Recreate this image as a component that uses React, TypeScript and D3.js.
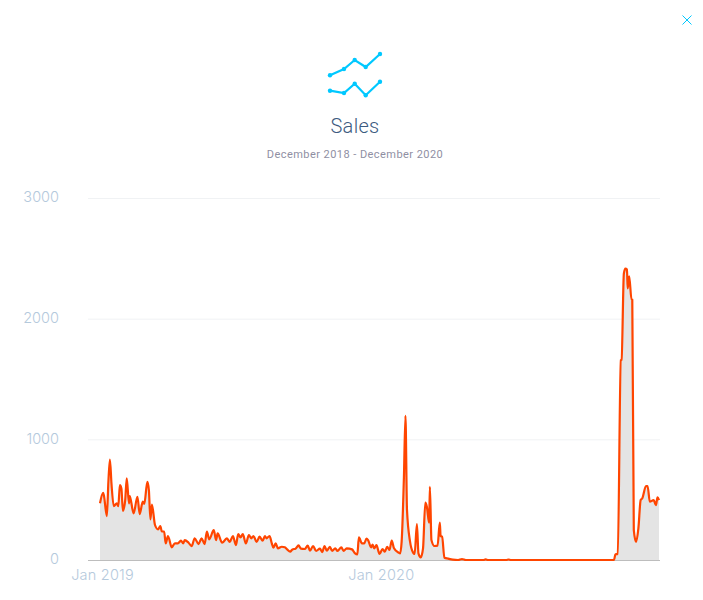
import React, { useEffect, useRef } from 'react';
import * as d3 from 'd3';

const chartTitle = 'Sales';
const chartSubtitle = 'December 2018 - December 2020';
const startDate = new Date(2018, 11, 30);
const endDate = new Date(2020, 11, 31);

const yTicks = [0, 1000, 2000, 3000];
const xTicks = [new Date(2019, 0, 1), new Date(2020, 0, 1)];

// days since startDate, the samples are not evenly spaced so the peaks stay sharp
const saleDays = [
    0, 4, 5, 9, 11, 13, 15, 18, 22, 24, 26, 28, 30, 33, 35, 38, 39, 44, 49, 52, 56, 58, 62, 64, 66, 68,
    72, 76, 79, 81, 84, 86, 89, 94, 98, 102, 106, 109, 111, 116, 120, 124, 129, 133, 137, 140, 143, 149,
    152, 154, 160, 166, 170, 174, 178, 181, 184, 187, 191, 195, 198, 201, 205, 209, 213, 216, 218, 222,
    225, 227, 230, 233, 238, 242, 245, 249, 252, 256, 260, 263, 268, 272, 275, 279, 283, 288, 291, 294,
    297, 301, 304, 308, 311, 316, 319, 323, 330, 334, 337, 339, 343, 346, 349, 351, 355, 357, 359, 362,
    366, 370, 373, 376, 379, 382, 385, 391, 393, 395, 398, 400, 402, 406, 410, 412, 415, 417, 420, 423,
    426, 428, 431, 432, 434, 438, 442, 445, 446, 448, 451, 456, 462, 469, 474, 479, 502, 505, 508, 532,
    535, 538, 673, 675, 678, 682, 683, 686, 688, 690, 691, 693, 696, 697, 699, 702, 705, 708, 710, 715,
    717, 720, 725, 728, 730, 732,
];

const saleValues = [
    470, 557, 538, 364, 650, 833, 635, 447, 469, 447, 620, 593, 408, 497, 676, 469, 530, 386, 524, 380, 483, 465, 648, 580, 337, 460,
    290, 254, 280, 236, 236, 138, 199, 105, 138, 138, 160, 138, 165, 143, 115, 180, 132, 180, 132, 235, 170, 248,
    165, 220, 143, 180, 150, 199, 124, 215, 188, 215, 138, 207, 180, 199, 150, 193, 160, 199, 180, 199,
    138, 102, 138, 97, 110, 105, 88, 69, 88, 94, 121, 94, 91, 119, 77, 116, 75, 94, 66, 116,
    77, 110, 75, 97, 75, 105, 75, 97, 88, 55, 47, 188, 138, 138, 177, 165, 105, 127, 97, 124,
    50, 91, 69, 110, 83, 160, 97, 61, 55, 152, 690, 1195, 414, 152, 61, 50, 298, 55, 22, 97,
    475, 442, 309, 607, 166, 116, 119, 309, 199, 193, 19, 11, 3, 0, 8, 0, 0, 6, 0, 0,
    4, 0, 0, 47, 50, 1656, 1660, 2374, 2415, 2407, 2250, 2350, 2158, 2158, 248, 150, 262, 497, 510, 613,
    613, 483, 497, 455, 519, 497,
];

const iconTop: [number, number][] = [[330, 75.3], [344, 69], [354.7, 60], [365.7, 67], [380, 54]];
const iconBottom: [number, number][] = [[330, 90.7], [344, 93], [354.7, 83.7], [365.7, 95.3], [380, 81.7]];

const sales = saleDays.map((day, i) => ({ date: d3.timeDay.offset(startDate, day), value: saleValues[i] }));

const App = () => {
    const ref = useRef<SVGSVGElement>(null);

    useEffect(() => {
        const svg = d3.select(ref.current);
        svg.selectAll('*').remove();

        const x = d3.scaleTime().domain([startDate, endDate]).range([100, 659]);
        const y = d3.scaleLinear().domain([0, 3000]).range([560, 198]);

        // grid and y labels
        const yAxis = svg.append('g')
            .attr('transform', 'translate(88,0)')
            .call(d3.axisLeft(y).tickValues(yTicks).tickSize(-572).tickPadding(29).tickFormat(d3.format('d')));
        yAxis.select('.domain').remove();
        yAxis.selectAll('line').attr('stroke', '#f0f2f4').attr('stroke-width', 1);
        yAxis.selectAll('text')
            .attr('fill', '#b4c9dc')
            .attr('font-family', 'Inter, sans-serif')
            .attr('font-weight', 300)
            .attr('font-size', 14.5)
            .attr('dy', '0.27em');

        const area = d3.area<{ date: Date; value: number }>()
            .x(d => x(d.date))
            .y0(y(0))
            .y1(d => y(d.value))
            .curve(d3.curveMonotoneX);

        const line = d3.line<{ date: Date; value: number }>()
            .x(d => x(d.date))
            .y(d => y(d.value))
            .curve(d3.curveMonotoneX);

        svg.append('path').datum(sales).attr('d', area).attr('fill', '#e4e4e4');

        // baseline
        svg.append('line')
            .attr('x1', 88).attr('x2', 660)
            .attr('y1', y(0) + 0.5).attr('y2', y(0) + 0.5)
            .attr('stroke', '#bdbdbd');

        svg.append('path')
            .datum(sales)
            .attr('d', line)
            .attr('fill', 'none')
            .attr('stroke', '#ff4500')
            .attr('stroke-width', 2.2)
            .attr('stroke-linejoin', 'round');

        const xAxis = svg.append('g')
            .attr('transform', 'translate(0,560)')
            .call(d3.axisBottom(x).tickValues(xTicks).tickSize(0).tickPadding(10).tickFormat(d3.timeFormat('%b %Y') as any));
        xAxis.select('.domain').remove();
        xAxis.selectAll('text')
            .attr('fill', '#b4c9dc')
            .attr('font-family', 'Inter, sans-serif')
            .attr('font-weight', 300)
            .attr('font-size', 14.5)
            .attr('letter-spacing', 0.2)
            .attr('dx', 0.5);

        // header icon
        const iconLine = d3.line();
        [iconTop, iconBottom].forEach(points => {
            svg.append('path')
                .attr('d', iconLine(points))
                .attr('fill', 'none')
                .attr('stroke', '#00c8ff')
                .attr('stroke-width', 2.2);
            svg.append('g').selectAll('circle')
                .data(points)
                .enter().append('circle')
                .attr('cx', d => d[0])
                .attr('cy', d => d[1])
                .attr('r', 2.2)
                .attr('fill', '#00c8ff');
        });

        // close button
        svg.append('path')
            .attr('d', 'M682.5,15.5L691.5,24.5M691.5,15.5L682.5,24.5')
            .attr('stroke', '#00c8ff')
            .attr('stroke-width', 1);

        svg.append('text')
            .attr('x', 355).attr('y', 132.5)
            .attr('text-anchor', 'middle')
            .attr('font-family', 'Roboto, sans-serif')
            .attr('font-weight', 300)
            .attr('font-size', 20)
            .attr('letter-spacing', 0.3)
            .attr('fill', '#3c5a80')
            .text(chartTitle);

        svg.append('text')
            .attr('x', 355).attr('y', 158)
            .attr('text-anchor', 'middle')
            .attr('font-family', 'Roboto, sans-serif')
            .attr('font-size', 11)
            .attr('letter-spacing', 0.45)
            .attr('fill', '#8f8fa3')
            .text(chartSubtitle);
    }, []);

    return (
        <svg ref={ref} width={703} height={600} style={{ position: 'absolute', left: 0, top: 0, display: 'block' }} />
    );
};

export default App;
